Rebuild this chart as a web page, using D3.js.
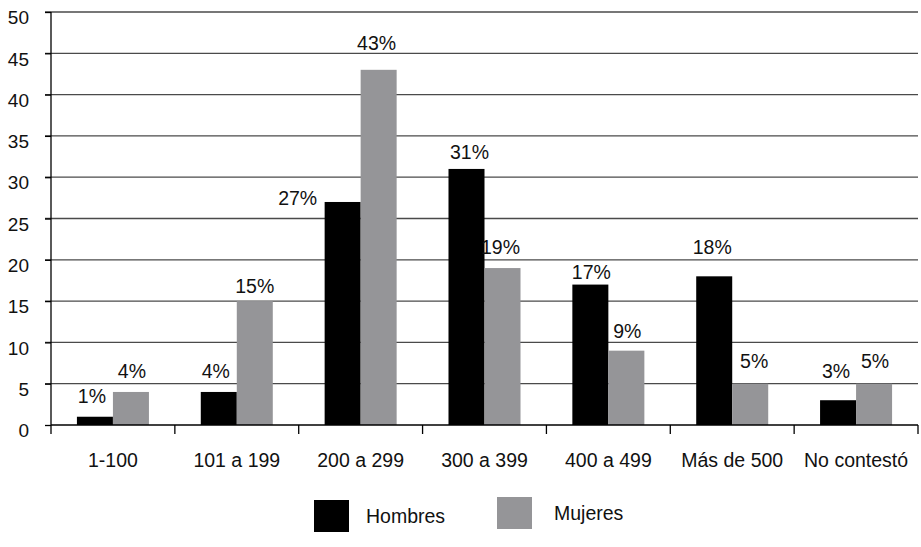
<!DOCTYPE html>
<html>
<head>
<meta charset="utf-8">
<script src="https://cdn.jsdelivr.net/npm/d3@7"></script>
<style>
  html, body { margin: 0; padding: 0; background: #fff; }
  svg { display: block; }
  text { font-family: "Liberation Sans", Arial, sans-serif; fill: #111; }
</style>
</head>
<body>
<svg id="chart" width="921" height="547"></svg>
<script>
// ---- data ----
const categories = ["1-100", "101 a 199", "200 a 299", "300 a 399", "400 a 499", "Más de 500", "No contestó"];
const seriesNames = ["Hombres", "Mujeres"];
const hombres = [1, 4, 27, 31, 17, 18, 3];
const mujeres = [4, 15, 43, 19, 9, 5, 5];
const yTicks = [0, 5, 10, 15, 20, 25, 30, 35, 40, 45, 50];

// ---- layout (label nudges, in px, relative to default position above bar) ----
const labelNudgeH = [[-3, -2], [-3, -2], [-45, 15], [3, 2], [1, 6], [-2, -10], [-2, -10]];
const labelNudgeM = [[1, -2], [0, 4], [-2, -8], [-2, -2], [1, -1], [4, -4], [1, -4]];

const colors = { Hombres: "#000000", Mujeres: "#959598" };

const svg = d3.select("#chart");
const margin = { left: 51, right: 3, top: 12, bottom: 122 };
const W = 921, H = 547;
const plotW = W - margin.left - margin.right;
const plotH = H - margin.top - margin.bottom;

const g = svg.append("g").attr("transform", `translate(${margin.left},${margin.top})`);

const x0 = d3.scaleBand().domain(categories).range([0, plotW]).paddingInner(0).paddingOuter(0);
const x1 = d3.scaleBand().domain(seriesNames).range([0, x0.bandwidth()]).paddingInner(0).paddingOuter(0.72);
const y = d3.scaleLinear().domain([0, 50]).range([plotH, 0]);

// gridlines
g.append("g")
  .selectAll("line")
  .data(yTicks.filter(d => d > 0))
  .join("line")
  .attr("x1", -6).attr("x2", plotW)
  .attr("y1", d => y(d)).attr("y2", d => y(d))
  .attr("stroke", "#4a4a4a").attr("stroke-width", 1.3);

// y axis
const yAxis = g.append("g")
  .call(d3.axisLeft(y).tickValues(yTicks).tickSize(6).tickPadding(16).tickFormat(d3.format("d")));
yAxis.select(".domain").remove();
yAxis.selectAll("line").attr("stroke", "#000").attr("stroke-width", 1.3);
yAxis.selectAll("text")
  .attr("font-size", 19).attr("font-family", "Liberation Sans, Arial, sans-serif")
  .attr("fill", "#111").attr("dy", "0.62em");

// bars
const rows = categories.map((c, i) => ({ cat: c, i, vals: [
  { s: "Hombres", v: hombres[i], nudge: labelNudgeH[i] },
  { s: "Mujeres", v: mujeres[i], nudge: labelNudgeM[i] }
]}));

const grp = g.append("g").selectAll("g")
  .data(rows).join("g")
  .attr("transform", d => `translate(${x0(d.cat)},0)`);

grp.selectAll("rect")
  .data(d => d.vals).join("rect")
  .attr("x", d => x1(d.s))
  .attr("width", x1.bandwidth())
  .attr("y", d => y(d.v))
  .attr("height", d => y(0) - y(d.v))
  .attr("fill", d => colors[d.s]);

grp.selectAll("text.val")
  .data(d => d.vals).join("text")
  .attr("class", "val")
  .attr("x", d => x1(d.s) + x1.bandwidth() / 2 + d.nudge[0])
  .attr("y", d => y(d.v) - 12 + d.nudge[1])
  .attr("text-anchor", "middle")
  .attr("font-size", 19.5)
  .text(d => d.v + "%");

// x axis base line and ticks
g.append("line")
  .attr("x1", 0).attr("x2", plotW)
  .attr("y1", y(0)).attr("y2", y(0))
  .attr("stroke", "#000").attr("stroke-width", 1.5);
// y axis line
g.append("line")
  .attr("x1", 0).attr("x2", 0)
  .attr("y1", y(50)).attr("y2", y(0) + 9)
  .attr("stroke", "#000").attr("stroke-width", 1.3);

const bounds = categories.map(c => x0(c)).concat([x0.range()[1]]).slice(1);
g.append("g").selectAll("line")
  .data(bounds).join("line")
  .attr("x1", d => d).attr("x2", d => d)
  .attr("y1", y(0)).attr("y2", y(0) + 9)
  .attr("stroke", "#000").attr("stroke-width", 1.3);

const xAxis = g.append("g")
  .attr("transform", `translate(0,${y(0)})`)
  .call(d3.axisBottom(x0).tickSize(0).tickPadding(42));
xAxis.select(".domain").remove();
xAxis.selectAll("text")
  .attr("font-size", 19.5).attr("font-family", "Liberation Sans, Arial, sans-serif")
  .attr("fill", "#111").attr("dy", "0");

// legend
const legend = svg.append("g");
const legendItems = [
  { s: "Hombres", rx: 314, ry: 500, tx: 366, ty: 523 },
  { s: "Mujeres", rx: 497, ry: 497, tx: 554, ty: 520 }
];
legend.selectAll("rect")
  .data(legendItems).join("rect")
  .attr("x", d => d.rx).attr("y", d => d.ry)
  .attr("width", 35).attr("height", 32)
  .attr("fill", d => colors[d.s]);
legend.selectAll("text")
  .data(legendItems).join("text")
  .attr("x", d => d.tx).attr("y", d => d.ty)
  .attr("font-size", 19.5)
  .text(d => d.s);
</script>
</body>
</html>
